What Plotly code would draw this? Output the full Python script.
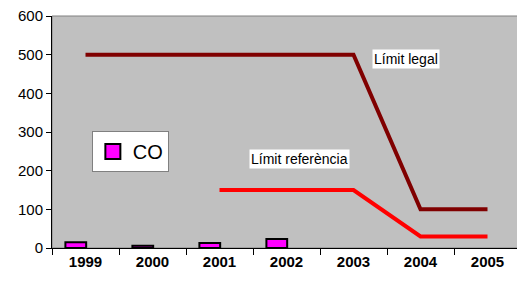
import plotly.graph_objects as go

years = ["1999", "2000", "2001", "2002", "2003", "2004", "2005"]
co_values = [15, 6, 13, 23, None, None, None]
limit_legal = [500, 500, 500, 500, 500, 100, 100]
limit_ref = [None, None, 150, 150, 150, 30, 30]
y_ticks = [0, 100, 200, 300, 400, 500, 600]

fig = go.Figure()
fig.add_trace(go.Bar(
    x=years, y=co_values, name="CO", showlegend=False,
    marker=dict(color="#FF00FF", line=dict(color="black", width=2)),
    offset=-0.3, width=0.31,
))
fig.add_trace(go.Scatter(
    x=[None], y=[None], name="CO", mode="markers",
    marker=dict(symbol="square", size=15, color="#FF00FF", line=dict(color="black", width=2)),
))
fig.add_trace(go.Scatter(
    x=years, y=limit_legal, mode="lines", showlegend=False,
    line=dict(color="#800000", width=4),
))
fig.add_trace(go.Scatter(
    x=years, y=limit_ref, mode="lines", showlegend=False,
    line=dict(color="#FF0000", width=4),
))

fig.update_layout(
    width=517, height=285,
    margin=dict(l=44, r=4, t=8, b=45, autoexpand=False),
    paper_bgcolor="white", plot_bgcolor="#C0C0C0",
    font=dict(family="Liberation Sans, Arial, sans-serif", color="black"),
    showlegend=True,
    legend=dict(
        x=0.085, y=0.504, xanchor="left", yanchor="top",
        bgcolor="white", bordercolor="#808080", borderwidth=1,
        font=dict(size=20, color="black"), itemwidth=30,
    ),
    annotations=[
        dict(text="Límit legal", xref="paper", yref="y", x=0.755, y=489,
             xanchor="center", yanchor="middle",
             showarrow=False, bgcolor="white", font=dict(size=14, color="black")),
        dict(text="Límit referència", xref="paper", yref="y", x=0.527, y=230,
             xanchor="center", yanchor="middle",
             showarrow=False, bgcolor="white", font=dict(size=14, color="black")),
    ],
    shapes=[
        dict(type="rect", xref="paper", yref="paper", x0=0, y0=0, x1=1, y1=1,
             line=dict(color="#808080", width=1), layer="below"),
    ],
)
fig.update_xaxes(
    type="category", tickson="boundaries", ticks="outside", ticklen=6,
    tickcolor="black", showline=True, linecolor="black", linewidth=1,
    showgrid=False, automargin=False, ticklabeloverflow="allow",
    tickfont=dict(size=15, family="Liberation Sans, Arial, sans-serif", weight="bold"),
    range=[-0.5, 6.5],
)
fig.update_yaxes(
    range=[0, 600], tickvals=y_ticks, ticks="outside", ticklen=5,
    tickcolor="black", showline=True, linecolor="black", linewidth=1,
    showgrid=False, zeroline=False, automargin=False, ticklabeloverflow="allow",
    tickfont=dict(size=15),
)

fig.write_html("out.html")
